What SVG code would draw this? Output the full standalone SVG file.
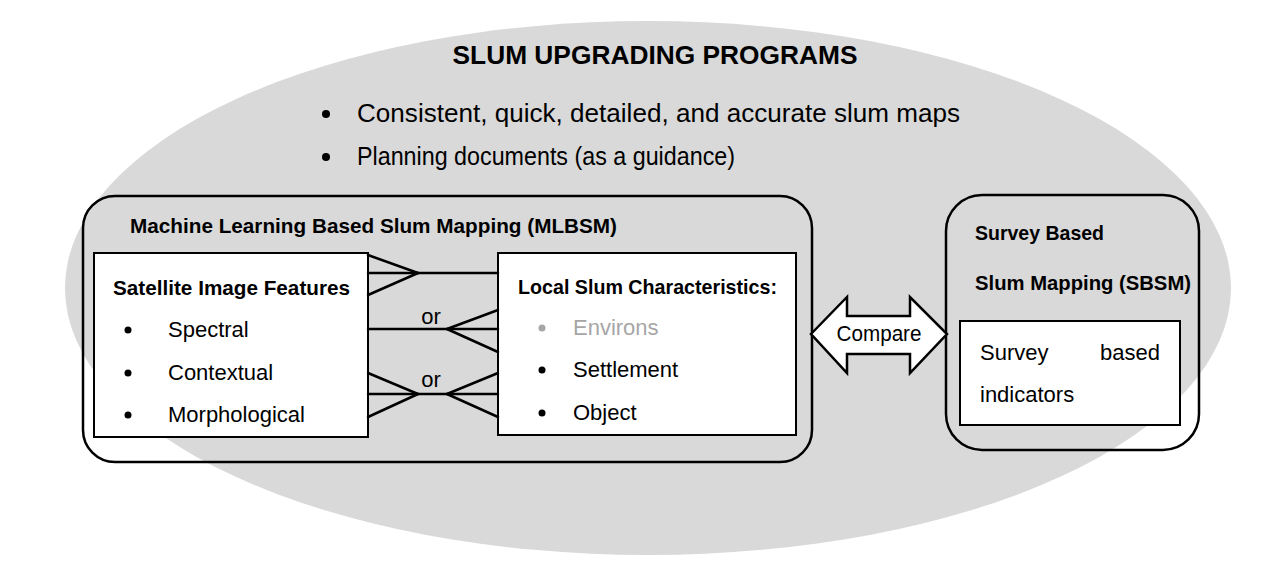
<svg xmlns="http://www.w3.org/2000/svg" width="1284" height="578" viewBox="0 0 1284 578">
<style>
text{font-family:"Liberation Sans",Arial,sans-serif;fill:#000}
.b{font-weight:bold;font-size:21px}
.r{font-size:22px}
.big{font-size:25.5px}
.title{font-weight:bold;font-size:26px}
.grey{fill:#a6a6a6}
.box{fill:none;stroke:#000;stroke-width:2.5}
.inner{fill:#fff;stroke:#000;stroke-width:2}
.con line{stroke:#000;stroke-width:2.5;stroke-linecap:round}
</style>
<rect width="1284" height="578" fill="#fff"/>
<g id="slum-upgrading">
<ellipse cx="648" cy="288" rx="583" ry="267" fill="#d9d9d9"/>
<text class="title" x="655" y="64" text-anchor="middle" textLength="405" lengthAdjust="spacingAndGlyphs">SLUM UPGRADING PROGRAMS</text>
<circle cx="326" cy="114" r="4"/>
<text class="big" x="357" y="122" textLength="603" lengthAdjust="spacingAndGlyphs">Consistent, quick, detailed, and accurate slum maps</text>
<circle cx="326" cy="157" r="4"/>
<text class="big" x="357" y="165" textLength="378" lengthAdjust="spacingAndGlyphs">Planning documents (as a guidance)</text>
</g>
<g id="mlbsm">
<rect class="box" x="83" y="196" width="729" height="266" rx="32" ry="32"/>
<text class="b" x="130" y="233" textLength="487" lengthAdjust="spacingAndGlyphs">Machine Learning Based Slum Mapping (MLBSM)</text>
</g>
<g id="satellite-features">
<rect class="inner" x="94" y="253" width="274" height="184"/>
<text class="b" x="113" y="295" textLength="237" lengthAdjust="spacingAndGlyphs">Satellite Image Features</text>
<circle cx="128" cy="330" r="3.5"/>
<text class="r" x="168" y="337">Spectral</text>
<circle cx="128" cy="373" r="3.5"/>
<text class="r" x="168" y="380">Contextual</text>
<circle cx="128" cy="415" r="3.5"/>
<text class="r" x="168" y="422">Morphological</text>
</g>
<g id="local-characteristics">
<rect class="inner" x="498" y="253" width="298" height="182"/>
<text class="b" x="518" y="294" textLength="259" lengthAdjust="spacingAndGlyphs">Local Slum Characteristics:</text>
<circle cx="542" cy="328" r="3.5" fill="#a6a6a6"/>
<text class="r grey" x="573" y="335">Environs</text>
<circle cx="542" cy="370" r="3.5"/>
<text class="r" x="573" y="377">Settlement</text>
<circle cx="542" cy="413" r="3.5"/>
<text class="r" x="573" y="420">Object</text>
</g>
<g id="sbsm">
<rect class="box" x="946" y="195" width="253" height="255" rx="36" ry="36"/>
<text class="b" x="975" y="240" textLength="129" lengthAdjust="spacingAndGlyphs">Survey Based</text>
<text class="b" x="975" y="290" textLength="216" lengthAdjust="spacingAndGlyphs">Slum Mapping (SBSM)</text>
</g>
<g id="survey-indicators">
<rect class="inner" x="960" y="321" width="220" height="104"/>
<text class="r" x="980" y="360">Survey</text>
<text class="r" x="1160" y="360" text-anchor="end">based</text>
<text class="r" x="980" y="402">indicators</text>
</g>
<g id="connectors" class="con">
<line x1="368" y1="273" x2="498" y2="273"/>
<line x1="368" y1="255" x2="418" y2="273"/>
<line x1="368" y1="295" x2="418" y2="273"/>
<line x1="368" y1="329" x2="498" y2="329"/>
<line x1="447" y1="329" x2="498" y2="310"/>
<line x1="447" y1="329" x2="498" y2="352"/>
<line x1="368" y1="394" x2="498" y2="394"/>
<line x1="368" y1="373" x2="418" y2="394"/>
<line x1="368" y1="417" x2="418" y2="394"/>
<line x1="447" y1="394" x2="498" y2="373"/>
<line x1="447" y1="394" x2="498" y2="417"/>
<text class="r" x="431" y="324" text-anchor="middle">or</text>
<text class="r" x="431" y="387" text-anchor="middle">or</text>
<polygon points="811,334 847,297 847,316 910,316 910,297 947,334 910,373 910,354 847,354 847,373" fill="#fff" stroke="#000" stroke-width="2.5" stroke-linejoin="miter"/>
<text class="r" x="879" y="341" text-anchor="middle" textLength="85" lengthAdjust="spacingAndGlyphs">Compare</text>
</g>
</svg>
